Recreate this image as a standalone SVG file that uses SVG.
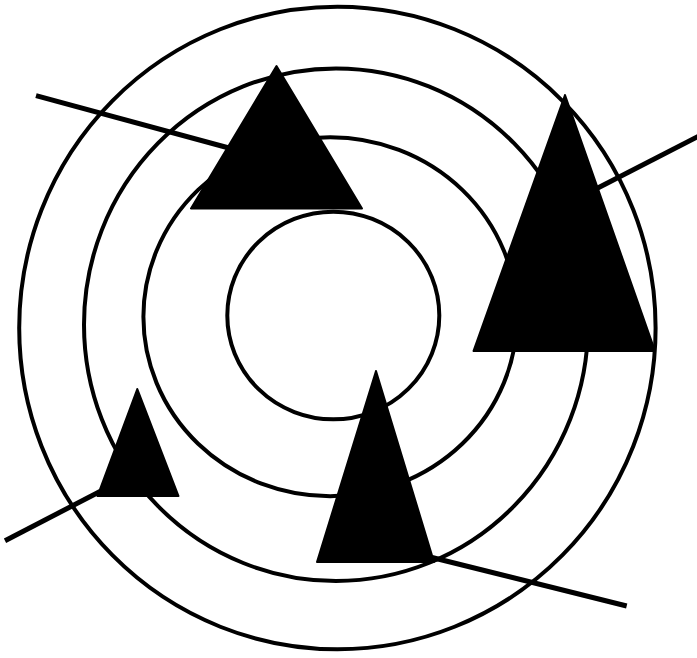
<svg xmlns="http://www.w3.org/2000/svg" width="697" height="658" viewBox="0 0 697 658">
  <style>
    .ring { fill: none; stroke: #000; stroke-width: 4; }
    .tri { fill: #000; stroke: #000; stroke-width: 2; stroke-linejoin: round; }
    .conn line { stroke: #000; stroke-width: 5; stroke-linecap: butt; }
  </style>
  <rect width="697" height="658" fill="#fff"/>
  <g id="rings">
    <ellipse id="ring-outer" class="ring" cx="337.4" cy="328" rx="318.2" ry="321.3"/>
    <ellipse id="ring-2" class="ring" cx="336" cy="324.7" rx="252" ry="256.3"/>
    <ellipse id="ring-3" class="ring" cx="330.2" cy="316.8" rx="186.8" ry="179.5"/>
    <ellipse id="ring-inner" class="ring" cx="333.3" cy="315.5" rx="106" ry="103.8"/>
  </g>
  <g id="connectors" class="conn">
    <line x1="36" y1="95.7" x2="240" y2="151"/>
    <line x1="700" y1="135.5" x2="590" y2="192"/>
    <line x1="5" y1="540.7" x2="100" y2="491.5"/>
    <line x1="432" y1="557.5" x2="626.7" y2="606"/>
  </g>
  <g id="tri-top"><polygon class="tri" points="276.5,66 191,208.5 362,208.5"/></g>
  <g id="tri-right"><polygon class="tri" points="565,95 473.5,351 655,351"/></g>
  <g id="tri-left"><polygon class="tri" points="137.3,389 97.5,496 178.5,496"/></g>
  <g id="tri-bottom"><polygon class="tri" points="376,371 317,562 434,562"/></g>
</svg>
